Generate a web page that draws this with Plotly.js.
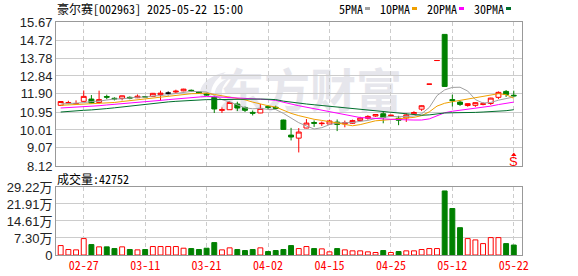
<!DOCTYPE html>
<html><head><meta charset="utf-8">
<script src="https://cdn.plot.ly/plotly-3.0.1.min.js"></script>
<style>html,body{margin:0;padding:0;background:#fff;}#chart{width:578px;height:276px;}</style>
</head><body><div id="chart"></div>
<script>
const dates = ['02-24','02-25','02-26','02-27','02-28','03-03','03-04','03-05','03-06','03-07',
'03-10','03-11','03-12','03-13','03-14','03-17','03-18','03-19','03-20','03-21',
'03-24','03-25','03-26','03-27','03-28','03-31','04-01','04-02','04-03','04-07',
'04-08','04-09','04-10','04-11','04-14','04-15','04-16','04-17','04-18','04-21',
'04-22','04-23','04-24','04-25','04-28','04-29','04-30','05-06','05-07','05-08',
'05-09','05-12','05-13','05-14','05-15','05-16','05-19','05-20','05-21','05-22'];
const open = [11.30,11.42,11.38,11.51,11.63,11.45,11.76,11.67,11.66,11.72,
11.70,11.76,11.77,11.86,11.94,12.00,12.06,12.09,12.01,11.91,
11.72,11.04,11.07,11.37,11.19,10.93,10.90,11.23,11.20,10.53,
9.74,9.58,10.11,10.40,10.34,10.32,10.42,10.33,10.36,10.50,
10.62,10.74,10.86,10.75,10.62,10.64,10.86,11.10,12.41,13.65,
15.02,11.60,11.47,11.29,11.30,11.35,11.40,11.72,12.03,11.83];
const high = [11.52,11.54,11.56,12.08,11.84,12.07,11.86,11.72,11.81,11.77,
11.87,11.78,11.95,12.07,12.03,12.12,12.17,12.13,12.05,11.93,
11.77,11.19,11.51,11.49,11.24,11.03,11.37,11.32,11.28,10.55,
10.12,10.11,10.58,10.51,10.45,10.55,10.56,10.50,10.55,10.70,
10.78,10.83,10.95,10.80,10.75,10.88,10.99,11.30,12.41,13.65,
15.02,11.86,11.54,11.40,11.45,11.46,11.70,12.03,12.10,12.07];
const low = [11.28,11.36,11.33,11.49,11.40,11.39,11.62,11.56,11.56,11.62,
11.68,11.72,11.75,11.55,11.82,11.95,12.04,12.02,11.90,11.80,
10.90,10.90,11.06,11.00,10.95,10.77,10.89,11.10,11.08,10.03,
9.46,8.83,10.10,10.17,10.22,10.30,9.95,10.15,10.33,10.46,
10.55,10.70,10.36,10.72,10.26,10.43,10.83,11.00,12.41,13.65,
12.29,11.24,11.27,11.23,11.22,11.30,11.32,11.63,11.74,11.72];
const close = [11.50,11.44,11.39,11.77,11.42,11.60,11.73,11.64,11.80,11.68,
11.78,11.74,11.93,11.94,11.94,12.04,12.15,12.06,11.93,11.84,
11.11,11.07,11.45,11.16,11.04,10.89,11.14,11.20,11.15,10.04,
9.64,9.90,10.37,10.36,10.36,10.48,10.30,10.38,10.50,10.63,
10.72,10.82,10.67,10.78,10.52,10.80,10.92,11.28,12.41,13.65,
12.29,11.55,11.35,11.39,11.44,11.38,11.68,11.98,11.87,11.80];
const volume = [40500,23500,22000,70400,44800,35000,35000,27700,35000,23500,
22000,23500,36300,36300,36300,36300,29200,27700,23500,29200,
53300,22000,30700,23500,19200,23500,30700,14900,19200,23500,
40500,27700,36300,27700,26300,13500,27700,22000,17800,17800,
13500,10700,19200,10700,14900,17800,17800,23500,27700,27700,
275000,199700,117300,70400,64800,49000,74700,74700,49000,42752];
const ma5 = [11.37,11.39,11.40,11.44,11.50,11.52,11.58,11.63,11.64,11.69,
11.73,11.73,11.79,11.81,11.87,11.92,12.00,12.03,12.02,12.00,
11.82,11.60,11.48,11.33,11.17,11.12,11.14,11.09,11.08,10.88,
10.63,10.39,10.22,10.06,10.13,10.29,10.37,10.38,10.40,10.46,
10.51,10.61,10.67,10.72,10.70,10.72,10.74,10.86,11.19,11.81,
12.11,12.24,12.25,12.05,11.60,11.42,11.45,11.57,11.67,11.74];
const ma10 = [11.30,11.32,11.33,11.35,11.37,11.40,11.42,11.45,11.50,11.55,
11.60,11.65,11.70,11.73,11.78,11.82,11.87,11.91,11.92,11.94,
11.87,11.80,11.76,11.67,11.59,11.47,11.37,11.28,11.21,11.03,
10.88,10.76,10.65,10.57,10.51,10.46,10.38,10.30,10.23,10.29,
10.40,10.49,10.52,10.56,10.58,10.61,10.67,10.76,10.96,11.26,
11.41,11.49,11.56,11.62,11.71,11.77,11.84,11.91,11.86,11.67];
const ma20 = [11.16,11.18,11.20,11.23,11.25,11.28,11.32,11.35,11.38,11.42,
11.45,11.49,11.53,11.56,11.60,11.63,11.67,11.70,11.74,11.77,
11.75,11.73,11.73,11.70,11.68,11.65,11.62,11.60,11.56,11.48,
11.37,11.28,11.20,11.12,11.05,10.97,10.87,10.79,10.72,10.66,
10.64,10.63,10.59,10.57,10.54,10.54,10.53,10.53,10.59,10.77,
10.91,10.99,11.04,11.09,11.14,11.19,11.26,11.34,11.41,11.47];
const ma30 = [10.95,10.99,11.02,11.04,11.06,11.08,11.13,11.17,11.22,11.26,
11.30,11.35,11.41,11.45,11.48,11.51,11.54,11.56,11.59,11.60,
11.60,11.61,11.62,11.62,11.63,11.63,11.63,11.62,11.60,11.52,
11.46,11.41,11.37,11.33,11.29,11.25,11.21,11.16,11.12,11.08,
11.05,11.02,10.98,10.94,10.89,10.85,10.81,10.78,10.80,10.86,
10.90,10.91,10.91,10.92,10.93,10.95,10.97,10.99,11.02,11.07];
const priceTicks = [8.12,9.07,10.01,10.95,11.90,12.84,13.78,14.72,15.67];
const volTicks = [0,73050,146100,219150,292200];
const volTickText = ['0','7.30万','14.61万','21.91万','29.22万'];
const dateTicks = ['02-27','03-11','03-21','04-02','04-15','04-25','05-12','05-22'];
const maNames = ['5PMA','10PMA','20PMA','30PMA'];
const stockTitle = '豪尔赛[002963] 2025-05-22 15:00';
const volLabel = '成交量:42752';
const watermark = '东方财富';
const signalText = 'S';

const RED = '#ff0000', GREEN = '#008000', BLACK = '#000000';
const maColors = ['#a0a0a0', '#f0a000', '#ff00ff', '#006f2d'];
const maSeries = [ma5, ma10, ma20, ma30];

const L = 56, R = 522, T = 22, B = 255;
const px = x => (x - L) / (R - L);
const py = y => (B - y) / (B - T);
function pathPx(cmds) {
  return cmds.map(c => c[0] + ' ' + c.slice(1).map((v, j) => (j % 2 === 0 ? px(v) : py(v)).toFixed(5)).join(' ')).join(' ') + ' Z';
}

function dirOf(i) {
  if (close[i] > open[i]) return 1;
  if (close[i] < open[i]) return -1;
  const p = i > 0 ? close[i - 1] : close[i];
  return close[i] > p ? 1 : (close[i] < p ? -1 : 0);
}
const groups = {up: [], dn: [], fl: []};
dates.forEach((d, i) => { const s = dirOf(i); (s > 0 ? groups.up : s < 0 ? groups.dn : groups.fl).push(i); });

function candle(idx, color, fill) {
  const st = {line: {color: color, width: 1}, fillcolor: fill};
  return {type: 'candlestick', x: idx.map(i => dates[i]), open: idx.map(i => open[i]),
    high: idx.map(i => high[i]), low: idx.map(i => low[i]), close: idx.map(i => close[i]),
    increasing: st, decreasing: st, whiskerwidth: 0, hoverinfo: 'skip', showlegend: false,
    xaxis: 'x', yaxis: 'y'};
}

const traces = [];
traces.push(candle(groups.up, RED, '#ffffff'));
traces.push(candle(groups.dn, GREEN, GREEN));
traces.push(candle(groups.fl, BLACK, BLACK));
maSeries.forEach((s, k) => traces.push({type: 'scatter', mode: 'lines', x: dates, y: s,
  line: {color: maColors[k], width: 1}, hoverinfo: 'skip', showlegend: false, xaxis: 'x', yaxis: 'y'}));

const volUp = dates.map((d, i) => close[i] >= open[i]);
traces.push({type: 'bar', x: dates, y: volume, width: 0.64, xaxis: 'x2', yaxis: 'y2',
  marker: {color: volUp.map(u => u ? '#ffffff' : GREEN), line: {color: volUp.map(u => u ? RED : GREEN), width: 1}},
  hoverinfo: 'skip', showlegend: false});

const monoFont = 'Noto Sans Mono CJK SC, Liberation Mono, monospace';
const xCommon = {type: 'category', categoryorder: 'array', categoryarray: dates, range: [-0.61, 60.07],
  tickmode: 'array', tickvals: dateTicks, showgrid: true, gridcolor: '#cccccc', griddash: '4px,3px', gridwidth: 1,
  showline: true, mirror: true, linecolor: '#999999', linewidth: 1, ticks: '', zeroline: false,
  rangeslider: {visible: false}, fixedrange: true};

const lastIdx = dates.length - 1;
const annotations = [
  {text: stockTitle, xref: 'paper', yref: 'paper', x: px(56), y: py(8.5), xanchor: 'left', yanchor: 'middle',
   showarrow: false, font: {family: monoFont, size: 12, color: '#000'}, borderpad: 0},
  {text: volLabel, xref: 'paper', yref: 'paper', x: px(56), y: py(178), xanchor: 'left', yanchor: 'middle',
   showarrow: false, font: {family: monoFont, size: 12, color: '#000'}, borderpad: 0},
  {text: signalText, xref: 'x', yref: 'paper', x: dates[lastIdx], y: py(161), xanchor: 'center', yanchor: 'middle',
   showarrow: false, font: {family: 'Arial', size: 13, color: RED}, borderpad: 0}
];
const shapes = [
  {type: 'rect', xref: 'paper', yref: 'paper', x0: px(236), x1: px(384), y0: py(108), y1: py(80),
   line: {width: 0}, fillcolor: 'rgba(0,0,0,0)', layer: 'below',
   label: {text: watermark, font: {family: 'Noto Sans CJK SC', size: 46, color: '#e6e6ec', weight: 'bold'}, textposition: 'middle center'}},
  {type: 'path', xref: 'paper', yref: 'paper', layer: 'below', line: {width: 0}, fillcolor: '#e8e8ee',
   path: pathPx([['M', 201, 98], ['C', 197, 86, 208, 76, 226, 72], ['C', 214, 80, 209, 89, 212, 98]])},
  {type: 'path', xref: 'paper', yref: 'paper', layer: 'below', line: {width: 0}, fillcolor: '#e8e8ee',
   path: pathPx([['M', 215, 98], ['C', 213, 89, 219, 81, 231, 77], ['C', 223, 84, 220, 91, 223, 98]])},
  {type: 'path', xref: 'x', yref: 'paper', line: {width: 0}, fillcolor: RED,
   path: 'M ' + (lastIdx - 0.35) + ' ' + py(156) + ' L ' + (lastIdx + 0.35) + ' ' + py(156) + ' L ' + lastIdx + ' ' + py(152.5) + ' Z'}
];
let lx = 338;
maNames.forEach((n, k) => {
  annotations.push({text: n, xref: 'paper', yref: 'paper', x: px(lx), y: py(8.5), xanchor: 'left', yanchor: 'middle',
    showarrow: false, font: {family: monoFont, size: 12, color: '#000'}, borderpad: 0});
  const sx = lx + n.length * 6 + 3;
  shapes.push({type: 'rect', xref: 'paper', yref: 'paper', x0: px(sx), x1: px(sx + 5), y0: py(10), y1: py(7),
    line: {width: 0}, fillcolor: maColors[k]});
  lx = sx + 5 + 9;
});

const layout = {
  width: 578, height: 276, margin: {l: L, r: 578 - R, t: T, b: 276 - B, pad: 0},
  paper_bgcolor: '#fff', plot_bgcolor: '#fff', showlegend: false,
  boxgap: 0.2, boxgroupgap: 0.2, bargap: 0,
  xaxis: Object.assign({}, xCommon, {anchor: 'y', showticklabels: false}),
  xaxis2: Object.assign({}, xCommon, {anchor: 'y2', showticklabels: true,
    tickfont: {family: monoFont, size: 12, color: RED}}),
  yaxis: {domain: [0.382, 1], range: [8.12, 15.67], tickmode: 'array', tickvals: priceTicks, tickformat: '.2f',
    showgrid: true, gridcolor: '#cccccc', showline: true, mirror: true, linecolor: '#999999', zeroline: false,
    ticks: '', tickfont: {family: 'Arial', size: 13, color: '#222'}, fixedrange: true},
  yaxis2: {domain: [0, 0.292], range: [0, 292200], tickmode: 'array', tickvals: volTicks, ticktext: volTickText,
    showgrid: true, gridcolor: '#cccccc', showline: true, mirror: true, linecolor: '#999999', zeroline: false,
    ticks: '', tickfont: {family: 'Arial, Noto Sans CJK SC', size: 13, color: '#222'}, fixedrange: true},
  annotations: annotations, shapes: shapes
};
Plotly.newPlot('chart', traces, layout, {staticPlot: true, displayModeBar: false});
</script></body></html>
